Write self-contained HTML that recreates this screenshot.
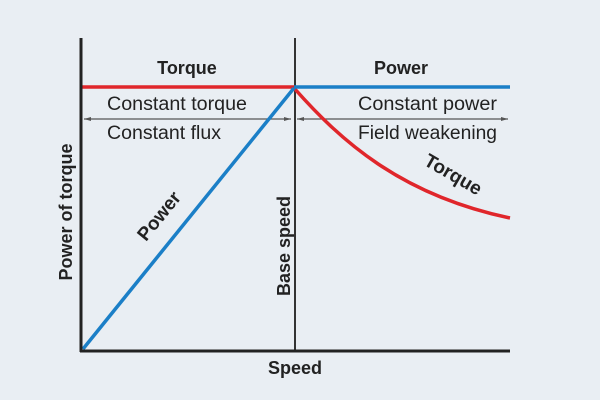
<!DOCTYPE html>
<html><head><style>
html,body{margin:0;padding:0;background:#e9eef3;}
svg{display:block}
text{font-family:"Liberation Sans",sans-serif;fill:#222}
</style></head><body>
<svg width="600" height="400" viewBox="0 0 600 400">
<rect width="600" height="400" fill="#e9eef3"/>
<g stroke="#555" stroke-width="1.2">
<line x1="84" y1="119" x2="291" y2="119"/>
<line x1="297" y1="119" x2="508" y2="119"/>
</g>
<g fill="#555">
<polygon points="84,119 91,117 91,121"/>
<polygon points="291,119 284,117 284,121"/>
<polygon points="297,119 304,117 304,121"/>
<polygon points="508,119 501,117 501,121"/>
</g>
<line x1="295" y1="38" x2="295" y2="351" stroke="#333" stroke-width="2"/>
<line x1="81" y1="87" x2="294" y2="87" stroke="#e0262b" stroke-width="3.5"/>
<path d="M294,88 C340,140 400,195 510,218" fill="none" stroke="#e0262b" stroke-width="3.5"/>
<line x1="294" y1="87" x2="510" y2="87" stroke="#1b7fc7" stroke-width="3.5"/>
<line x1="83" y1="349" x2="294" y2="88" stroke="#1b7fc7" stroke-width="3.5"/>
<line x1="81" y1="38" x2="81" y2="352" stroke="#222" stroke-width="3"/>
<line x1="80" y1="351" x2="510" y2="351" stroke="#222" stroke-width="3"/>
<text x="187" y="74" font-size="18" font-weight="bold" text-anchor="middle">Torque</text>
<text x="401" y="74" font-size="18" font-weight="bold" text-anchor="middle">Power</text>
<text x="107" y="110" font-size="19" fill="#333" textLength="140" lengthAdjust="spacingAndGlyphs">Constant torque</text>
<text x="107" y="139" font-size="19" fill="#333" textLength="114" lengthAdjust="spacingAndGlyphs">Constant flux</text>
<text x="358" y="110" font-size="19" fill="#333" textLength="139" lengthAdjust="spacingAndGlyphs">Constant power</text>
<text x="358" y="139" font-size="19" fill="#333" textLength="139" lengthAdjust="spacingAndGlyphs">Field weakening</text>
<text x="295" y="374" font-size="18" font-weight="bold" text-anchor="middle">Speed</text>
<text transform="translate(72,212) rotate(-90)" font-size="18" font-weight="bold" text-anchor="middle">Power of torque</text>
<text transform="translate(290,246) rotate(-90)" font-size="18" font-weight="bold" text-anchor="middle">Base speed</text>
<text transform="translate(164,220) rotate(-51)" font-size="19" font-weight="bold" text-anchor="middle">Power</text>
<text transform="translate(450,180) rotate(30)" font-size="19" font-weight="bold" text-anchor="middle">Torque</text>
</svg>
</body></html>
